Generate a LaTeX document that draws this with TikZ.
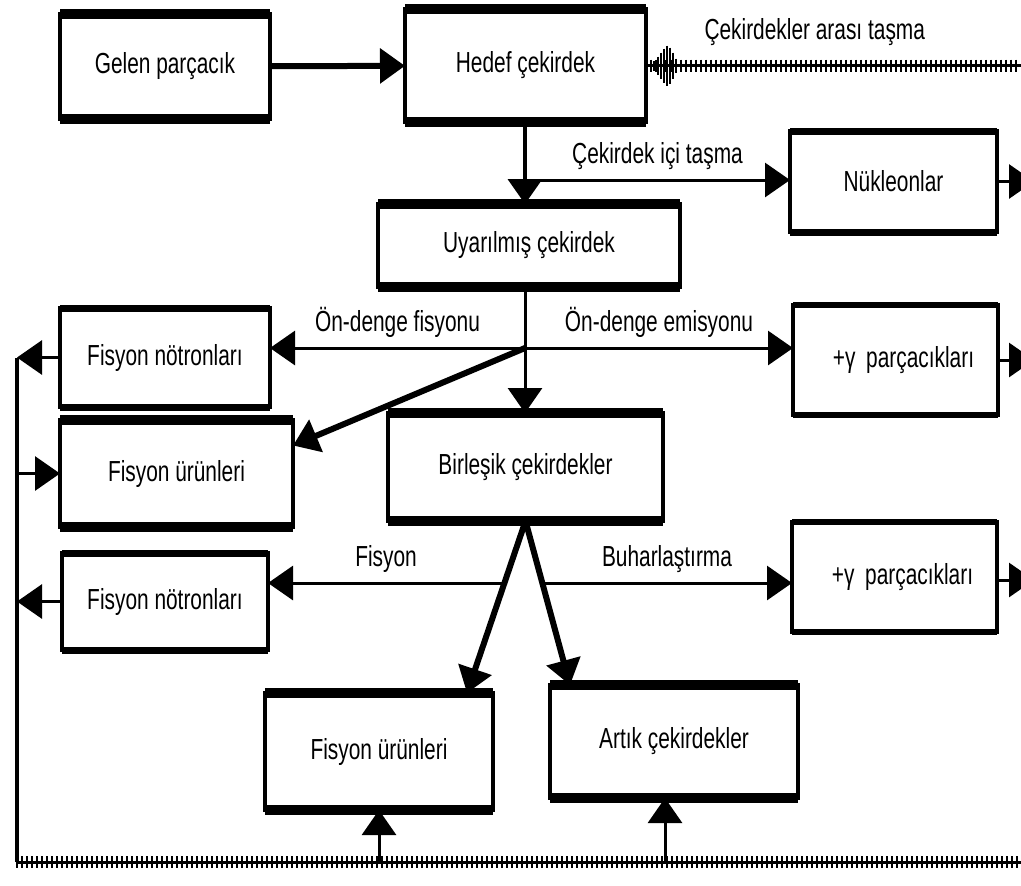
\documentclass[tikz,border=0pt]{standalone}
\usepackage{fontspec}
\setmainfont{Liberation Sans}[FakeStretch=0.72]
\usetikzlibrary{arrows.meta,decorations.pathreplacing}

\begin{document}
\begin{tikzpicture}[x=0.5pt,y=-0.5pt,>={Triangle[length=12.5pt,width=17pt]},every node/.style={font=\fontsize{14.5}{16}\selectfont},box/.style={draw,line width=2pt,outer sep=0pt,inner sep=0pt},conn/.style={->,line width=1.5pt},heavy/.style={->,line width=3pt},hatched/.style={line width=1.5pt,postaction={draw,line width=.8pt,decorate,decoration={ticks,segment length=2.5pt,amplitude=3pt}}}]
\fill[white] (0,0) rectangle (1021,885);\useasboundingbox (0,0) rectangle (1021,885);
% boxes
\node[box,minimum width=105pt,minimum height=52.5pt] (gelen) at (165,66.5) {Gelen parçacık};
\node[box,minimum width=120.5pt,minimum height=56.5pt] (hedef) at (525.5,65.5) {Hedef çekirdek};
\node[box,minimum width=103.5pt,minimum height=50.5pt] (nukleon) at (893.5,181.5) {Nükleonlar};
\node[box,minimum width=151pt,minimum height=41.5pt] (uyarilmis) at (529,245.5) {Uyarılmış çekirdek};
\node[box,minimum width=105pt,minimum height=49.5pt] (notronA) at (165,357.5) {Fisyon nötronları};
\node[box,minimum width=102.5pt,minimum height=55pt] (gammaA) at (895.5,360) {\hspace{8pt}+γ\, parçacıkları};
\node[box,minimum width=116.5pt,minimum height=53.5pt] (urunA) at (176.5,473.5) {Fisyon ürünleri};
\node[box,minimum width=137.5pt,minimum height=54pt] (birlesik) at (525.5,467) {Birleşik çekirdekler};
\node[box,minimum width=103pt,minimum height=48.5pt] (notronB) at (165,601.5) {Fisyon nötronları};
\node[box,minimum width=102.5pt,minimum height=55pt] (gammaB) at (894.5,577) {\hspace{8pt}+γ\, parçacıkları};
\node[box,minimum width=114pt,minimum height=58.5pt] (urunB) at (379,751.5) {Fisyon ürünleri};
\node[box,minimum width=124pt,minimum height=56.5pt] (artik) at (674,741.5) {Artık çekirdekler};
\foreach \n/\w in {gelen/5,hedef/5,uyarilmis/5,urunA/5,birlesik/5,urunB/5,artik/5,nukleon/3.5,notronA/3.5,notronB/3.5,gammaA/3,gammaB/3}
  \draw[line width=\w pt] (\n.north west) -- (\n.north east) (\n.south west) -- (\n.south east);
% free ends and branch points
\coordinate (e0) at (1021,65.5);\coordinate (e1) at (1034,181.5);\coordinate (e2) at (1034,360);\coordinate (e3) at (1034,580);
\coordinate (ic) at (525,180);\coordinate (od) at (525,348);\coordinate (fl) at (504,583);\coordinate (fr) at (542,583);
\coordinate (lt) at (17,357.5);\coordinate (lb) at (17,862);\coordinate (rb) at (1021,862);
% connectors
\draw[heavy] (gelen) -- (hedef);
\draw[hatched] (hedef.east) -- node[above=6pt,pos=.45] {Çekirdekler arası taşma} (e0);
\foreach \x/\h in {654/10,658/18,661/26,664/34,667/40,670/36,673/26,676/14}
  \draw[line width=1.2pt] (\x,{65.5-\h/2}) -- (\x,{65.5+\h/2});
\draw[conn,line width=2pt] (hedef.south -| ic) -- (uyarilmis.north -| ic);
\draw[conn] (ic) -- node[above=1pt] {Çekirdek içi taşma} (nukleon.west |- ic);
\draw[conn] (nukleon.east) -- (e1);
\draw[conn] (uyarilmis.south -| od) -- (birlesik.north -| od);
\draw[conn] (od) -- node[above=1pt] {Ön-denge fisyonu} (notronA.east |- od);
\draw[conn] (od) -- node[above=1pt] {Ön-denge emisyonu} (gammaA.west |- od);
\draw[heavy] (od) -- ([yshift=14pt]urunA.east);
\draw[conn] (gammaA.east) -- (e2);
\draw[heavy] (birlesik.south) -- ([xshift=-13pt]urunB.north east);
\draw[heavy] (birlesik.south) -- ([xshift=10pt]artik.north west);
\draw[conn] (fl) -- node[above=1pt] {Fisyon} (notronB.east |- fl);
\draw[conn] (fr) -- node[above=1pt] {Buharlaştırma} (gammaB.west |- fr);
\draw[conn] (gammaB.east |- e3) -- (e3);
% feedback loop
\draw[line width=2pt] (lt) -- (lb);
\draw[hatched] (lb) -- (rb);
\draw[conn] (notronA.west) -- (notronA.west -| lt);
\draw[conn] (notronB.west) -- (notronB.west -| lt);
\draw[conn] (urunA.west -| lt) -- (urunA.west);
\draw[conn] (urunB.south |- lb) -- (urunB.south);
\draw[conn] ([xshift=-4.5pt]artik.south |- lb) -- ([xshift=-4.5pt]artik.south);
\end{tikzpicture}
\end{document}
